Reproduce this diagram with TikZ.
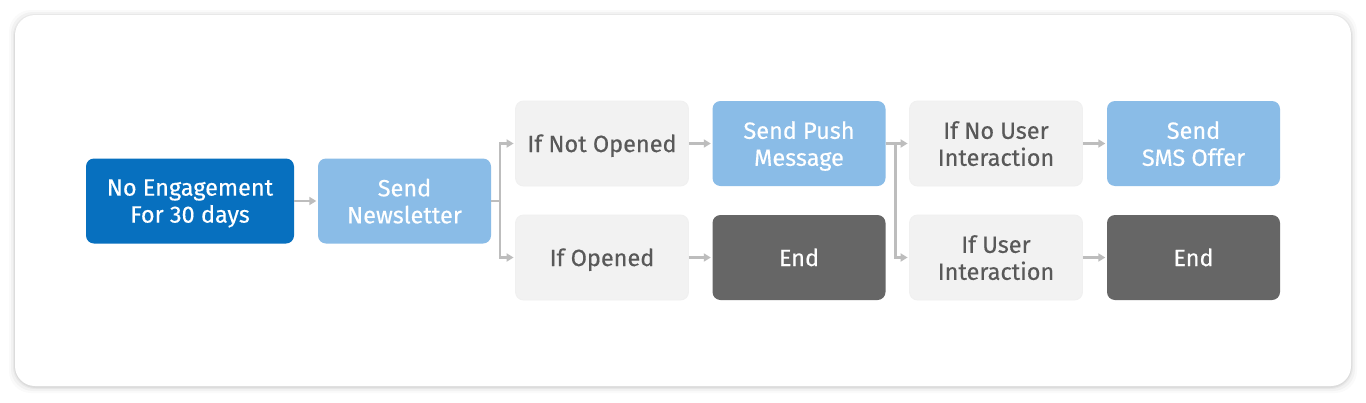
\documentclass[tikz,border=0pt]{standalone}
\usepackage{fontspec}
\setmainfont{Fira Sans}
\newfontfamily\boxfont{Fira Sans}[FakeBold=0.35]
\usetikzlibrary{arrows.meta,positioning}
\definecolor{darkblue}{HTML}{0770BF}
\definecolor{lightblue}{HTML}{8ABCE7}
\definecolor{lightgray}{HTML}{F2F2F2}
\definecolor{darkgray}{HTML}{666666}
\definecolor{txtgray}{HTML}{595959}
\definecolor{conngray}{HTML}{BDBDBD}
\tikzset{
  box/.style={rounded corners=8pt, minimum width=173pt, minimum height=85pt, align=center,
    font=\boxfont\fontsize{23.5}{27}\selectfont, inner sep=0pt, text depth=-5pt},
  oneline/.style={text height=17pt},
  startbox/.style={box, fill=darkblue, text=white, minimum width=208pt},
  actbox/.style={box, fill=lightblue, text=white},
  condbox/.style={box, fill=lightgray, text=txtgray, draw=black!6, line width=0.8pt},
  endbox/.style={box, fill=darkgray, text=white},
  conn/.style={draw=conngray, line width=2.5pt, -{Triangle[length=7pt,width=8pt]}, shorten >=1.5pt},
}
\begin{document}
\begin{tikzpicture}[x=1pt,y=-1pt]
\useasboundingbox (0,0) rectangle (1366,402);
\fill[white] (0,0) rectangle (1366,402);
% card shadow
\foreach \i/\o in {6/0.02,4/0.03,2/0.04,1/0.05}{
  \fill[black, opacity=\o, rounded corners=22pt] (15-\i,15-\i+1) rectangle (1351+\i,386+\i+1);
}
\fill[white, rounded corners=20pt] (15,15) rectangle (1351,386);

\node[startbox] (ne) at (190,201) {No Engagement\\For 30 days};
\node[actbox] (nl) at (404.5,201) {Send\\Newsletter};
\node[condbox, oneline] (nop) at (602,143.5) {If Not Opened};
\node[condbox, oneline] (op) at (602,257.5) {If Opened};
\node[actbox] (push) at (799,143.5) {Send Push\\Message};
\node[endbox, oneline] (end1) at (799,257.5) {End};
\node[condbox] (nui) at (996,143.5) {If No User\\Interaction};
\node[condbox] (ui) at (996,257.5) {If User\\Interaction};
\node[actbox] (sms) at (1193.5,143.5) {Send\\SMS Offer};
\node[endbox, oneline] (end2) at (1193.5,257.5) {End};

\draw[conn] (ne.east) -- (nl.west);
\draw[conn] (nl.east) -- ++(9,0) |- (nop.west);
\draw[conn] (nl.east) -- ++(9,0) |- (op.west);
\draw[conn] (nop.east) -- (push.west);
\draw[conn] (op.east) -- (end1.west);
\draw[conn] (push.east) -- ++(10,0) |- (nui.west);
\draw[conn] (push.east) -- ++(10,0) |- (ui.west);
\draw[conn] (nui.east) -- (sms.west);
\draw[conn] (ui.east) -- (end2.west);
\end{tikzpicture}
\end{document}
